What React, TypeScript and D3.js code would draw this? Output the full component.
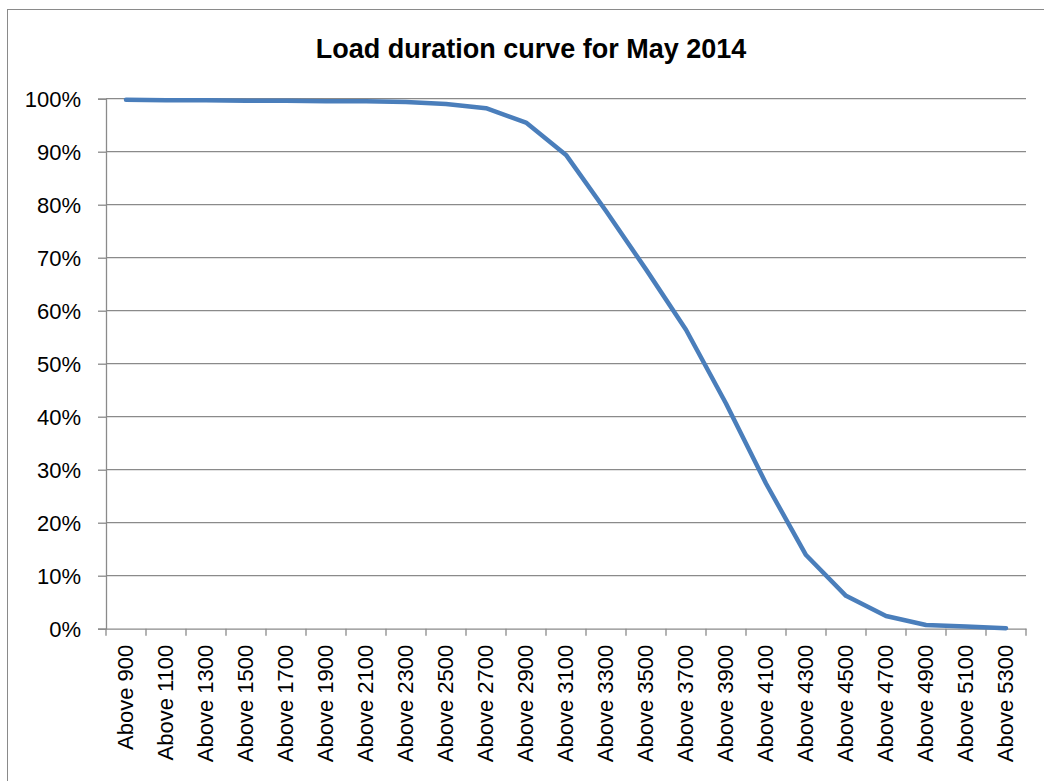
import React, { useEffect, useRef } from 'react';
import * as d3 from 'd3';

// CATEGORY LABELS (LOAD THRESHOLDS)
const categories: string[] = [
  'Above 900', 'Above 1100', 'Above 1300', 'Above 1500', 'Above 1700', 'Above 1900',
  'Above 2100', 'Above 2300', 'Above 2500', 'Above 2700', 'Above 2900', 'Above 3100',
  'Above 3300', 'Above 3500', 'Above 3700', 'Above 3900', 'Above 4100', 'Above 4300',
  'Above 4500', 'Above 4700', 'Above 4900', 'Above 5100', 'Above 5300',
];

// SHARE OF TIME ABOVE EACH THRESHOLD (%)
const shareAbove: number[] = [
  99.8, 99.7, 99.7, 99.6, 99.6, 99.5, 99.5, 99.4, 99.0, 98.2, 95.5, 89.4,
  78.8, 67.8, 56.4, 42.5, 27.4, 13.9, 6.2, 2.4, 0.7, 0.4, 0.1,
];

// Y TICKS
const yTicks: number[] = [0, 10, 20, 30, 40, 50, 60, 70, 80, 90, 100];

const chartTitle = 'Load duration curve for May 2014';

export default function App() {
  const ref = useRef<SVGSVGElement>(null);

  useEffect(() => {
    const svg = d3.select(ref.current);
    svg.selectAll('*').remove();

    const left = 106, right = 1026, top = 98.7, bottom = 628.7;
    const grey = '#8a8a8a';
    const labelFont = '"Liberation Sans", Arial, sans-serif';

    // OUTER CHART BORDER
    svg.append('rect')
      .attr('x', 7.5).attr('y', 9.5)
      .attr('width', 1100).attr('height', 900)
      .attr('fill', '#fff')
      .attr('stroke', grey);

    // SCALES
    const x = d3.scaleBand<string>().domain(categories).range([left, right]).padding(0);
    const y = d3.scaleLinear().domain([0, 100]).range([bottom, top]);

    // GRIDLINES
    svg.append('g')
      .selectAll('line')
      .data(yTicks.filter(t => t > 0))
      .join('line')
      .attr('x1', left).attr('x2', right)
      .attr('y1', d => y(d)).attr('y2', d => y(d))
      .attr('stroke', grey).attr('stroke-width', 1.3);

    // Y AXIS
    const yAxis = svg.append('g')
      .attr('transform', `translate(${left},0)`)
      .call(d3.axisLeft(y).tickValues(yTicks).tickSize(8).tickPadding(17).tickFormat(d => `${d}%`));
    yAxis.select('.domain').attr('stroke', grey).attr('stroke-width', 1.3);
    yAxis.selectAll('.tick line').attr('stroke', grey).attr('stroke-width', 1.3);
    yAxis.selectAll('.tick text')
      .attr('fill', '#000')
      .attr('font-family', labelFont)
      .attr('font-size', 22)
      .attr('dy', '0.34em');

    // X AXIS
    const xAxis = svg.append('g')
      .attr('transform', `translate(0,${bottom})`)
      .call(d3.axisBottom(x).tickSize(0).tickSizeOuter(0));
    xAxis.select('.domain').attr('stroke', grey).attr('stroke-width', 1.3);
    xAxis.selectAll('.tick text')
      .attr('fill', '#000')
      .attr('font-family', labelFont)
      .attr('font-size', 22)
      .attr('text-anchor', 'end')
      .attr('transform', 'rotate(-90)')
      .attr('x', -16)
      .attr('y', 0)
      .attr('dy', '0.34em');

    // X TICK MARKS ON CATEGORY BOUNDARIES
    svg.append('g')
      .selectAll('line')
      .data(categories.concat(['__end']))
      .join('line')
      .attr('x1', (d, i) => left + i * x.bandwidth())
      .attr('x2', (d, i) => left + i * x.bandwidth())
      .attr('y1', bottom).attr('y2', bottom + 7)
      .attr('stroke', grey).attr('stroke-width', 1.3);

    // THE LINE
    svg.append('path')
      .datum(shareAbove)
      .attr('fill', 'none')
      .attr('stroke', '#4a7ebb')
      .attr('stroke-width', 4.5)
      .attr('stroke-linejoin', 'round')
      .attr('stroke-linecap', 'round')
      .attr('d', d3.line<number>()
        .x((d, i) => (x(categories[i]) as number) + x.bandwidth() / 2)
        .y(d => y(d)));

    // TITLE
    svg.append('text')
      .attr('x', 531)
      .attr('y', 58)
      .attr('text-anchor', 'middle')
      .attr('font-family', '"Liberation Sans", Arial, sans-serif')
      .attr('font-weight', 'bold')
      .attr('font-size', 27)
      .attr('fill', '#000')
      .text(chartTitle);
  }, []);

  return (
    <svg ref={ref} width={1044} height={781}
      style={{ position: 'absolute', left: 0, top: 0, display: 'block' }} />
  );
}
